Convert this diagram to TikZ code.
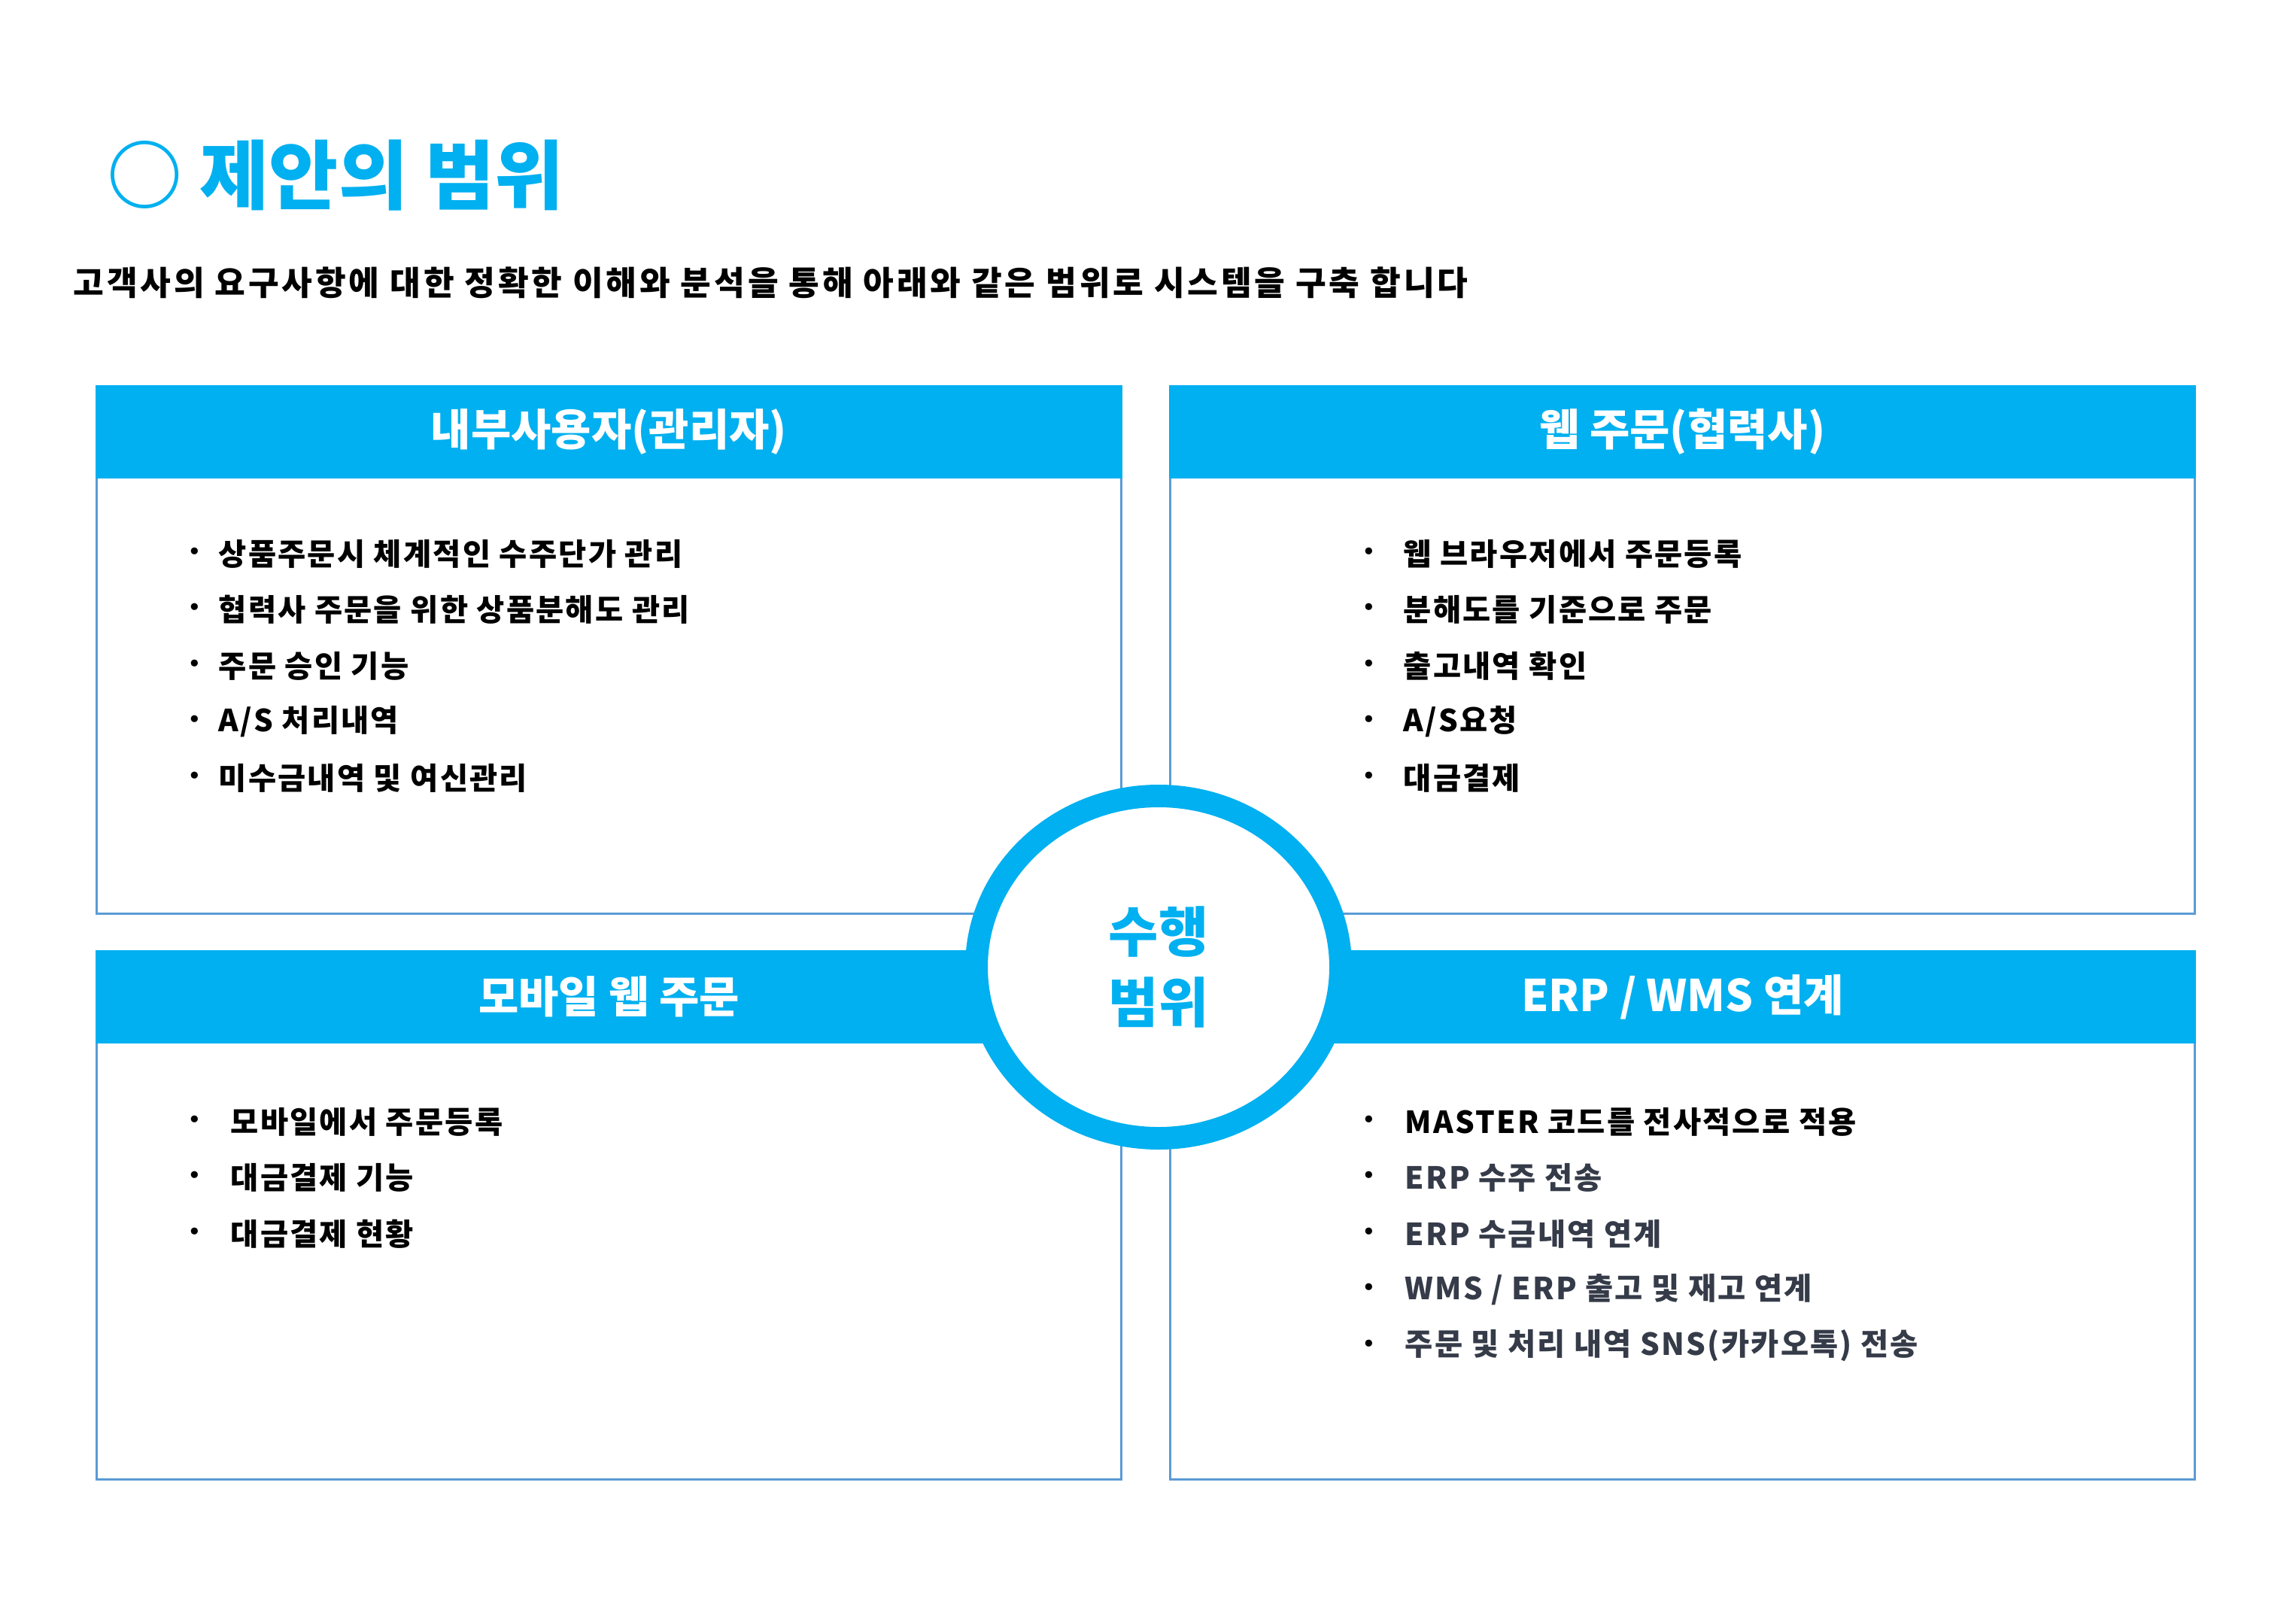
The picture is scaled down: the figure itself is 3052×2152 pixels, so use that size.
\documentclass[tikz,border=0pt]{standalone}
\usepackage{fontspec}
\setmainfont{Noto Sans CJK KR}
\newfontfamily\bulletfont{DejaVu Sans}
\usetikzlibrary{shapes.geometric}
\definecolor{hdrblue}{HTML}{00B0F0}
\definecolor{lineblue}{HTML}{5B9BD5}
\definecolor{itemgray}{HTML}{353B48}
\tikzset{
  titletxt/.style={inner sep=0pt, text=hdrblue, font=\bfseries\fontsize{28.5pt}{32pt}\selectfont},
  subtxt/.style={inner sep=0pt, text=black, font=\bfseries\fontsize{12.6pt}{15pt}\selectfont\addfontfeatures{LetterSpace=8.5}},
  hdr/.style={fill=hdrblue, draw=none, inner sep=0pt, text=white, minimum width=136.5mm, minimum height=12.4mm, font=\bfseries\fontsize{16.5pt}{20pt}\selectfont},
  frame/.style={draw=lineblue, line width=0.3mm, fill=white},
  itemtxt/.style={inner sep=0pt, anchor=west, text=black, font=\bfseries\fontsize{11.5pt}{14pt}\selectfont\addfontfeatures{LetterSpace=5.5}},
  graytxt/.style={itemtxt, text=itemgray},
  dot/.style={inner sep=0pt, anchor=center, text=black, font=\bulletfont\fontsize{9pt}{10pt}\selectfont},
  ring/.style={ellipse, draw=hdrblue, line width=3mm, fill=white, inner sep=0pt, minimum width=48.4mm, minimum height=45.5mm, align=center, text=hdrblue, font=\bfseries\fontsize{20.5pt}{27pt}\selectfont}
}
\begin{document}
\begin{tikzpicture}[x=0.1mm, y=-0.1mm]
\useasboundingbox (0,0) rectangle (3052,2152);
\fill[white] (0,0) rectangle (3052,2152);

% title
\node[titletxt, anchor=base west] (title) at (142,271) {○ 제안의 범위};
\node[subtxt, anchor=base west] (sub) at (97,392) {고객사의 요구사항에 대한 정확한 이해와 분석을 통해 아래와 같은 범위로 시스템을 구축 합니다};

% frames
\draw[frame] (128.5,513.5) rectangle (1490.5,1214);
\draw[frame] (1555.5,513.5) rectangle (2917.5,1214);
\draw[frame] (128.5,1264.5) rectangle (1490.5,1966);
\draw[frame] (1555.5,1264.5) rectangle (2917.5,1966);

% headers
\node[hdr] (h1) at (809.5,574) {내부사용자(관리자)};
\node[hdr] (h2) at (2236.5,574) {웹 주문(협력사)};
\node[hdr] (h3) at (809.5,1325) {모바일 웹 주문};
\node[hdr] (h4) at (2236.5,1325) {ERP / WMS 연계};

% top-left items
\foreach \t [count=\i from 0] in {상품주문시 체계적인 수주단가 관리, 협력사 주문을 위한 상품분해도 관리, 주문 승인 기능, A/S 처리내역, 미수금내역 및 여신관리}{
  \node[dot] (a\i) at (259,736+74.5*\i) {•};
  \node[itemtxt] (at\i) at (290,736+74.5*\i) {\t};
}
% top-right items
\foreach \t [count=\i from 0] in {웹 브라우저에서 주문등록, 분해도를 기준으로 주문, 출고내역 확인, A/S요청, 대금결제}{
  \node[dot] (b\i) at (1820,736+74.5*\i) {•};
  \node[itemtxt] (bt\i) at (1865,736+74.5*\i) {\t};
}
% bottom-left items
\foreach \t [count=\i from 0] in {모바일에서 주문등록, 대금결제 기능, 대금결제 현황}{
  \node[dot] (c\i) at (259,1491+74.5*\i) {•};
  \node[itemtxt] (ct\i) at (306,1491+74.5*\i) {\t};
}
% bottom-right items
\node[dot] (d0) at (1820,1491) {•};
\node[itemtxt] (dt0) at (1867,1491) {MASTER 코드를 전사적으로 적용};
\foreach \t [count=\i from 1] in {ERP 수주 전송, ERP 수금내역 연계, WMS / ERP 출고 및 재고 연계, 주문 및 처리 내역 SNS(카카오톡) 전송}{
  \node[dot] (d\i) at (1820,1491+74.5*\i) {•};
  \node[graytxt] (dt\i) at (1867,1491+74.5*\i) {\t};
}

% center ring
\node[ring] (center) at (1540,1285.5) {수행\\범위};
\end{tikzpicture}
\end{document}
